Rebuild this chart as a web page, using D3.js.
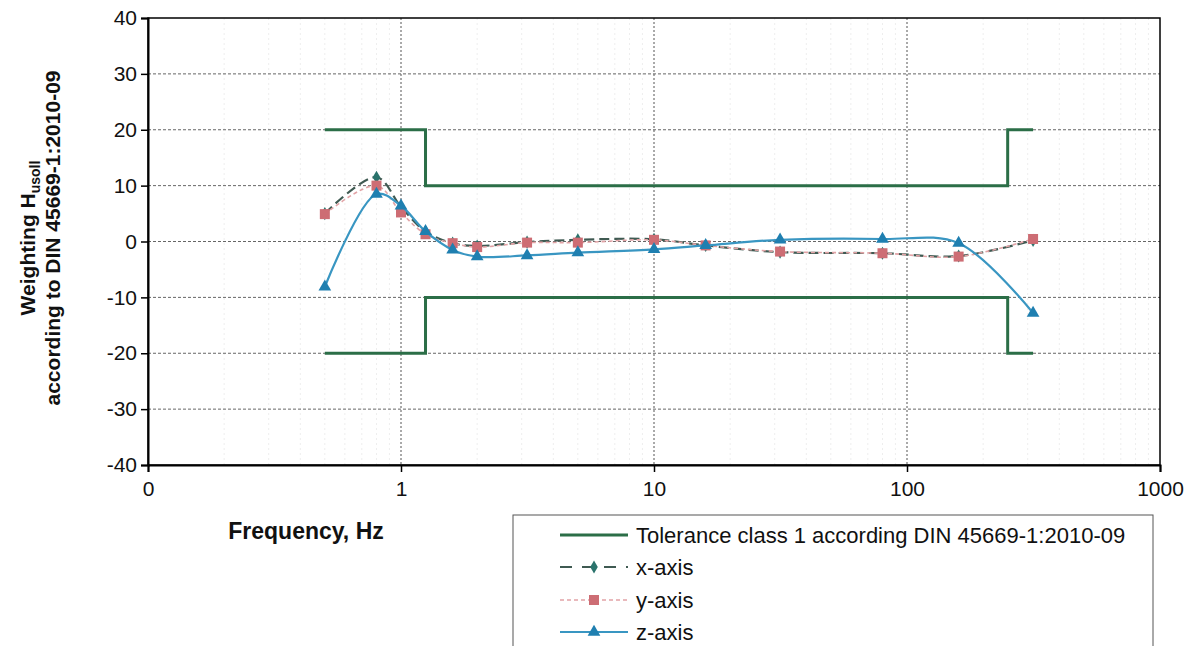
<!DOCTYPE html>
<html>
<head>
<meta charset="utf-8">
<script src="https://cdn.jsdelivr.net/npm/d3@7"></script>
<style>
  html, body { margin: 0; padding: 0; background: #fff; }
  svg { display: block; font-family: "Liberation Sans", Arial, sans-serif; }
</style>
</head>
<body>
<svg id="chart" width="1189" height="646"></svg>
<script>
// Third-octave measurement frequencies (Hz)
const frequencies = [0.5, 0.8, 1, 1.25, 1.6, 2, 3.15, 5, 10, 16, 31.5, 80, 160, 315];

// Measured weighting deviations (dB) per axis
const xAxisValues = [5.0, 11.5, 6.2, 1.8, -0.3, -0.8, -0.1, 0.3, 0.4, -0.7, -1.9, -2.1, -2.6, 0.2];
const yAxisValues = [4.9, 10.0, 5.2, 1.3, -0.3, -1.0, -0.2, -0.2, 0.3, -0.7, -1.8, -2.1, -2.7, 0.45];
const zAxisValues = [-8.1, 8.5, 6.4, 1.8, -1.5, -2.7, -2.5, -2.0, -1.4, -0.7, 0.3, 0.45, -0.3, -12.8];

// Tolerance class 1 band (step edges)
const toleranceFreqs = [0.5, 1.25, 250, 315];
const toleranceUpper = [20, 10, 20, 20];
const toleranceLower = [-20, -10, -20, -20];

// Axis ticks
const xTickValues = [0.1, 1, 10, 100, 1000];
const xTickLabels = ["0", "1", "10", "100", "1000"];
const yTickValues = [-40, -30, -20, -10, 0, 10, 20, 30, 40];

const legendLabels = [
  "Tolerance class 1 according DIN 45669-1:2010-09",
  "x-axis",
  "y-axis",
  "z-axis"
];

const svg = d3.select("#chart");
const plot = { left: 148, right: 1160, top: 18, bottom: 465 };

const x = d3.scaleLog().domain([0.1, 1000]).range([plot.left, plot.right]);
const y = d3.scaleLinear().domain([-40, 40]).range([plot.bottom, plot.top]);

const colors = {
  tolerance: "#2b6e47",
  xLine: "#3f5a52",
  xMark: "#2a736c",
  yLine: "#e2a3a6",
  yMark: "#cd6d74",
  zLine: "#3996c2",
  zMark: "#1f7fb0"
};

// Minor vertical grid (faint)
const minorTicks = [];
for (let d = 0.1; d < 1000; d *= 10) {
  for (let k = 2; k <= 9; k++) minorTicks.push(d * k);
}
svg.append("g")
  .selectAll("line")
  .data(minorTicks)
  .join("line")
  .attr("x1", d => x(d)).attr("x2", d => x(d))
  .attr("y1", plot.top).attr("y2", plot.bottom)
  .attr("stroke", "#eeeeee")
  .attr("stroke-width", 1)
  .attr("stroke-dasharray", "2,3");

// Major vertical grid
svg.append("g")
  .selectAll("line")
  .data(xTickValues.slice(1, -1))
  .join("line")
  .attr("x1", d => x(d)).attr("x2", d => x(d))
  .attr("y1", plot.top).attr("y2", plot.bottom)
  .attr("stroke", "#555")
  .attr("stroke-width", 1)
  .attr("stroke-dasharray", "2,2");

// Horizontal grid
svg.append("g")
  .selectAll("line")
  .data(yTickValues.slice(1, -1))
  .join("line")
  .attr("x1", plot.left).attr("x2", plot.right)
  .attr("y1", d => y(d)).attr("y2", d => y(d))
  .attr("stroke", "#666")
  .attr("stroke-width", 1)
  .attr("stroke-dasharray", "3,2");

// Plot border
svg.append("rect")
  .attr("x", plot.left).attr("y", plot.top)
  .attr("width", plot.right - plot.left)
  .attr("height", plot.bottom - plot.top)
  .attr("fill", "none")
  .attr("stroke", "#000")
  .attr("stroke-width", 1.5);

// Axes
const yAxis = d3.axisLeft(y).tickValues(yTickValues).tickSize(7).tickPadding(4)
  .tickFormat(d => String(d));
const gy = svg.append("g").attr("transform", `translate(${plot.left},0)`).call(yAxis);
gy.select(".domain").attr("stroke", "#000").attr("stroke-width", 2);
gy.selectAll(".tick line").attr("stroke", "#000").attr("stroke-width", 1.5);
gy.selectAll(".tick text").attr("font-size", 21).attr("fill", "#111")
  .attr("font-family", "'Liberation Sans', Arial, sans-serif");

const xAxis = d3.axisBottom(x).tickValues(xTickValues).tickSize(7).tickPadding(9)
  .tickFormat((d, i) => xTickLabels[i]);
const gx = svg.append("g").attr("transform", `translate(0,${plot.bottom})`).call(xAxis);
gx.select(".domain").attr("stroke", "#000").attr("stroke-width", 2);
gx.selectAll(".tick line").attr("stroke", "#000").attr("stroke-width", 1.5);
gx.selectAll(".tick text").attr("font-size", 21).attr("fill", "#111")
  .attr("font-family", "'Liberation Sans', Arial, sans-serif");

// Axis titles
svg.append("text")
  .attr("x", 306).attr("y", 539)
  .attr("text-anchor", "middle")
  .attr("font-size", 23).attr("font-weight", "bold").attr("fill", "#111")
  .text("Frequency, Hz");

const yTitle = svg.append("g").attr("transform", "translate(0,238) rotate(-90)");
const t1 = yTitle.append("text")
  .attr("x", 0).attr("y", 35)
  .attr("text-anchor", "middle")
  .attr("font-size", 21).attr("font-weight", "bold").attr("fill", "#111");
t1.append("tspan").text("Weighting H");
t1.append("tspan").attr("font-size", 14).attr("dy", 5).text("usoll");
yTitle.append("text")
  .attr("x", 0).attr("y", 60)
  .attr("text-anchor", "middle")
  .attr("font-size", 21).attr("font-weight", "bold").attr("fill", "#111")
  .text("according to DIN 45669-1:2010-09");

// Tolerance band
const stepLine = d3.line()
  .x(d => x(d[0])).y(d => y(d[1]))
  .curve(d3.curveStepAfter);
[toleranceUpper, toleranceLower].forEach(vals => {
  svg.append("path")
    .datum(toleranceFreqs.map((f, i) => [f, vals[i]]))
    .attr("d", stepLine)
    .attr("fill", "none")
    .attr("stroke", colors.tolerance)
    .attr("stroke-width", 3);
});

// Measured series with smoothed lines
const smoothLine = d3.line()
  .x(d => x(d[0])).y(d => y(d[1]))
  .curve(d3.curveCatmullRom.alpha(0.5));

function drawSeries(values, lineColor, width, dash) {
  const pts = frequencies.map((f, i) => [f, values[i]]);
  svg.append("path")
    .datum(pts)
    .attr("d", smoothLine)
    .attr("fill", "none")
    .attr("stroke", lineColor)
    .attr("stroke-width", width)
    .attr("stroke-dasharray", dash);
  return pts;
}

const xPts = drawSeries(xAxisValues, colors.xLine, 2.2, "10,5");
svg.append("g").selectAll("path")
  .data(xPts).join("path")
  .attr("transform", d => `translate(${x(d[0])},${y(d[1])})`)
  .attr("d", d3.symbol(d3.symbolDiamond, 50))
  .attr("fill", colors.xMark);

const yPts = drawSeries(yAxisValues, colors.yLine, 1.6, "4,3");
svg.append("g").selectAll("rect")
  .data(yPts).join("rect")
  .attr("x", d => x(d[0]) - 5).attr("y", d => y(d[1]) - 5)
  .attr("width", 10).attr("height", 10)
  .attr("fill", colors.yMark);

const zPts = drawSeries(zAxisValues, colors.zLine, 2.2, null);
svg.append("g").selectAll("path")
  .data(zPts).join("path")
  .attr("transform", d => `translate(${x(d[0])},${y(d[1])})`)
  .attr("d", d3.symbol(d3.symbolTriangle, 70))
  .attr("fill", colors.zMark);

// Legend
const legend = svg.append("g");
legend.append("rect")
  .attr("x", 513).attr("y", 515)
  .attr("width", 640).attr("height", 150)
  .attr("fill", "#fff")
  .attr("stroke", "#555").attr("stroke-width", 1);

const rowY = [535, 567, 600, 632];
const lx1 = 560, lx2 = 628, lmid = (lx1 + lx2) / 2;

legend.append("line").attr("x1", lx1).attr("x2", lx2).attr("y1", rowY[0]).attr("y2", rowY[0])
  .attr("stroke", colors.tolerance).attr("stroke-width", 3);
legend.append("line").attr("x1", lx1).attr("x2", lx2).attr("y1", rowY[1]).attr("y2", rowY[1])
  .attr("stroke", colors.xLine).attr("stroke-width", 2.2).attr("stroke-dasharray", "12,10");
legend.append("path").attr("transform", `translate(${lmid},${rowY[1]})`)
  .attr("d", d3.symbol(d3.symbolDiamond, 50)).attr("fill", colors.xMark);
legend.append("line").attr("x1", lx1).attr("x2", lx2).attr("y1", rowY[2]).attr("y2", rowY[2])
  .attr("stroke", colors.yLine).attr("stroke-width", 1.6).attr("stroke-dasharray", "4,3");
legend.append("rect").attr("x", lmid - 5).attr("y", rowY[2] - 5).attr("width", 10).attr("height", 10)
  .attr("fill", colors.yMark);
legend.append("line").attr("x1", lx1).attr("x2", lx2).attr("y1", rowY[3]).attr("y2", rowY[3])
  .attr("stroke", colors.zLine).attr("stroke-width", 2.2);
legend.append("path").attr("transform", `translate(${lmid},${rowY[3]})`)
  .attr("d", d3.symbol(d3.symbolTriangle, 70)).attr("fill", colors.zMark);

legend.selectAll("text.label")
  .data(legendLabels).join("text")
  .attr("class", "label")
  .attr("x", 636).attr("y", (d, i) => rowY[i])
  .attr("dy", "0.35em")
  .attr("font-size", 22).attr("fill", "#111")
  .text(d => d);
</script>
</body>
</html>
